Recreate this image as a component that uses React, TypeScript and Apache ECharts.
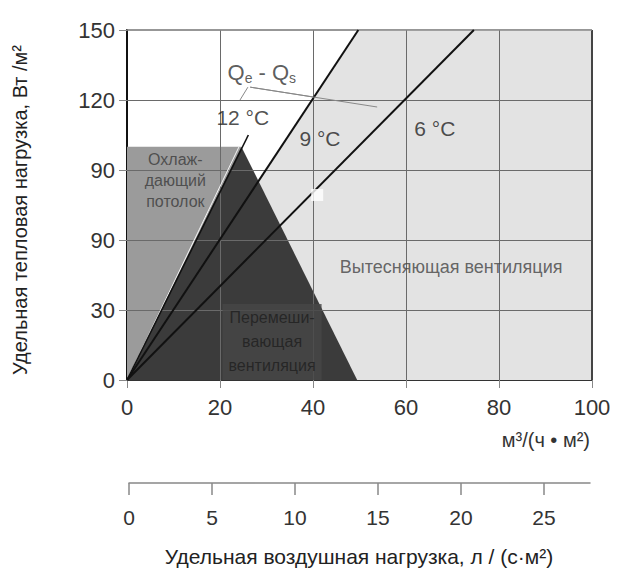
import React, { useEffect, useRef } from 'react';
import * as echarts from 'echarts';

// Axis ticks (labels as printed in the reference, including its duplicate "90")
const yTickValues = [0, 30, 60, 90, 120, 150];
const yTickLabels = ['0', '30', '90', '90', '120', '150'];
const xTickValues = [0, 20, 40, 60, 80, 100];
const lowerTickValues = [0, 5, 10, 15, 20, 25];
const lowerMax = 100 / 3.6; // л/(с·м²) equivalent of 100 м³/(ч·м²)

// Regions (x: м³/(ч·м²), y: Вт/м²)
const displacementRegion = [[0, 0], [100, 0], [100, 150], [49.75, 150], [0, 0]];
const ceilingRect = [[0, 0], [0, 100], [24.5, 100], [24.5, 0]];
const mixingTriangle = [[0, 0], [24.6, 100], [49.5, 0]];

// Temperature-difference lines
const line12 = [[0, 0], [26.1, 105]];
const line12White = [[0, 0], [24.1, 100]];
const line9 = [[0, 0], [49.75, 150]];
const line6 = [[0, 0], [74.6, 150]];
const leaderA = [[26.0, 125.5], [24.3, 120]];
const leaderB = [[26.5, 125.5], [53.8, 117]];
const leaderC = [[26.5, 125.5], [40.0, 121.3]];
const artifactSquare = [[40.9, 79.3]];

// Annotation anchor points
const label12 = [24.9, 112.3];
const label9 = [41.5, 103.7];
const label6 = [66.2, 108];
const labelQ = [29, 132];
const labelCeiling = [10.4, 85.5];
const labelDisplacement = [69.7, 48.4];
const labelMixing = [31.2, 16.3];

export default function App() {
  const ref = useRef<HTMLDivElement>(null);
  useEffect(() => {
    if (!ref.current) return;
    const chart = echarts.init(ref.current, null, { renderer: 'svg' });
    const font = 'Liberation Sans, Arial, sans-serif';

    const poly = (pts: number[][], color: string, z: number) => ({
      type: 'custom',
      xAxisIndex: 0,
      yAxisIndex: 0,
      z,
      silent: true,
      clip: true,
      data: [[0, 0]],
      renderItem: (_p: any, api: any) => ({
        type: 'polygon',
        shape: { points: pts.map((p) => api.coord(p)) },
        style: { fill: color },
      }),
    });

    const seg = (pts: number[][], color: string, width: number, z: number) => ({
      type: 'line',
      xAxisIndex: 0,
      yAxisIndex: 0,
      data: pts,
      symbol: 'none',
      silent: true,
      z,
      lineStyle: { color, width },
    });

    const ann = (pos: number[], text: string, extra: any = {}) => ({
      value: pos,
      label: {
        show: true,
        position: 'inside',
        formatter: text,
        fontFamily: font,
        ...extra,
      },
    });

    const option: any = {
      animation: false,
      backgroundColor: '#ffffff',
      grid: [
        { left: 127, top: 30, width: 465, height: 350, show: true, borderColor: '#888', borderWidth: 1, backgroundColor: '#ffffff' },
        { left: 129, top: 483, width: 461, height: 0 },
      ],
      xAxis: [
        {
          type: 'value', gridIndex: 0, min: 0, max: 100, interval: 20,
          axisLine: { show: true, lineStyle: { color: '#333', width: 2 } },
          axisTick: { show: true, length: 8, lineStyle: { color: '#888' } },
          splitLine: { show: false },
          axisLabel: { color: '#333', fontSize: 22, fontFamily: font, margin: 16 },
        },
        {
          type: 'value', gridIndex: 1, min: 0, max: lowerMax, interval: 5,
          axisLine: { show: true, lineStyle: { color: '#888', width: 1.5 } },
          axisTick: { show: true, length: 12, lineStyle: { color: '#888', width: 1.5 } },
          splitLine: { show: false },
          axisLabel: {
            color: '#333', fontSize: 21, fontFamily: font, margin: 24,
            showMaxLabel: false,
            formatter: (v: number) => (lowerTickValues.includes(Math.round(v)) ? String(Math.round(v)) : ''),
          },
        },
      ],
      yAxis: [
        {
          type: 'value', gridIndex: 0, min: 0, max: 150, interval: 30,
          axisLine: { show: true, lineStyle: { color: '#111', width: 2 } },
          axisTick: { show: true, length: 8, lineStyle: { color: '#888' } },
          splitLine: { show: false },
          axisLabel: {
            color: '#333', fontSize: 22, fontFamily: font, margin: 12,
            formatter: (v: number) => {
              const i = yTickValues.indexOf(v);
              return i >= 0 ? yTickLabels[i] : '';
            },
          },
        },
        { type: 'value', gridIndex: 1, show: false, min: 0, max: 1 },
      ],
      series: [
        poly(displacementRegion, '#e3e3e3', 1),
        poly(ceilingRect, '#9b9b9b', 2),
        poly(mixingTriangle, '#3b3b3b', 3),
        {
          type: 'line', xAxisIndex: 0, yAxisIndex: 0, data: [[0, 0]], symbol: 'none', silent: true, z: 4,
          lineStyle: { opacity: 0 },
          markLine: {
            silent: true, symbol: ['none', 'none'], label: { show: false },
            lineStyle: { color: '#6a6a6a', type: 'solid', width: 1 },
            data: [
              ...xTickValues.slice(1, -1).map((v) => ({ xAxis: v })),
              ...yTickValues.slice(1, -1).map((v) => ({ yAxis: v })),
              { xAxis: 100, lineStyle: { color: '#444', width: 2, type: 'solid' } },
              { yAxis: 150, lineStyle: { color: '#888', width: 1.5, type: 'solid' } },
            ],
          },
        },
        seg(line12White, '#f4f4f4', 1, 5),
        seg(line12, '#111', 1.6, 6),
        seg(line9, '#111', 2, 6),
        seg(line6, '#111', 2, 6),
        seg(leaderA, '#888', 1, 6),
        seg(leaderB, '#888', 1, 6),
        seg(leaderC, '#888', 1, 6),
        {
          type: 'scatter', xAxisIndex: 0, yAxisIndex: 0, z: 7, silent: true,
          symbol: 'rect', symbolSize: 12, itemStyle: { color: '#ffffff' },
          data: artifactSquare,
        },
        {
          type: 'scatter', xAxisIndex: 0, yAxisIndex: 0, z: 8, silent: true,
          symbolSize: 0,
          data: [
            ann(label12, '12 °C', { color: '#222', fontSize: 21 }),
            ann(label9, '9 °C', { color: '#222', fontSize: 21 }),
            ann(label6, '6 °C', { color: '#222', fontSize: 21 }),
            ann(labelQ, '{a|Q}{s|e}{a| - Q}{s|s}', {
              color: '#333',
              rich: {
                a: { fontSize: 22, fontFamily: font, color: '#333', lineHeight: 26, verticalAlign: 'middle' },
                s: { fontSize: 14, fontFamily: font, color: '#333', lineHeight: 26, verticalAlign: 'bottom', padding: [10, 0, 0, 0] },
              },
            }),
            ann(labelCeiling, 'Охлаж-\nдающий\nпотолок', { color: '#3a3a3a', fontSize: 16, lineHeight: 21, align: 'center' }),
            ann(labelDisplacement, 'Вытесняющая вентиляция', { color: '#444', fontSize: 18 }),
            ann(labelMixing, 'Перемеши-\nвающая\nвентиляция', {
              color: '#1e1e1e', fontSize: 16, lineHeight: 24, align: 'center',
              backgroundColor: '#474747', padding: [2, 6],
            }),
          ],
        },
      ],
      graphic: [
        {
          type: 'text', x: 590, y: 440,
          style: { text: 'м³/(ч • м²)', font: '20px Liberation Sans, Arial, sans-serif', fill: '#333', align: 'right', verticalAlign: 'middle' },
        },
        {
          type: 'text', x: 20, y: 210, rotation: Math.PI / 2,
          style: { text: 'Удельная тепловая нагрузка, Вт /м²', font: '20px Liberation Sans, Arial, sans-serif', fill: '#222', align: 'center', verticalAlign: 'middle' },
        },
        {
          type: 'text', x: 359, y: 556,
          style: { text: 'Удельная воздушная нагрузка, л / (с·м²)', font: '21px Liberation Sans, Arial, sans-serif', fill: '#222', align: 'center', verticalAlign: 'middle' },
        },
      ],
    };
    chart.setOption(option);
    return () => chart.dispose();
  }, []);
  return <div ref={ref} style={{ position: 'absolute', left: 0, top: 0, width: 617, height: 569 }} />;
}
